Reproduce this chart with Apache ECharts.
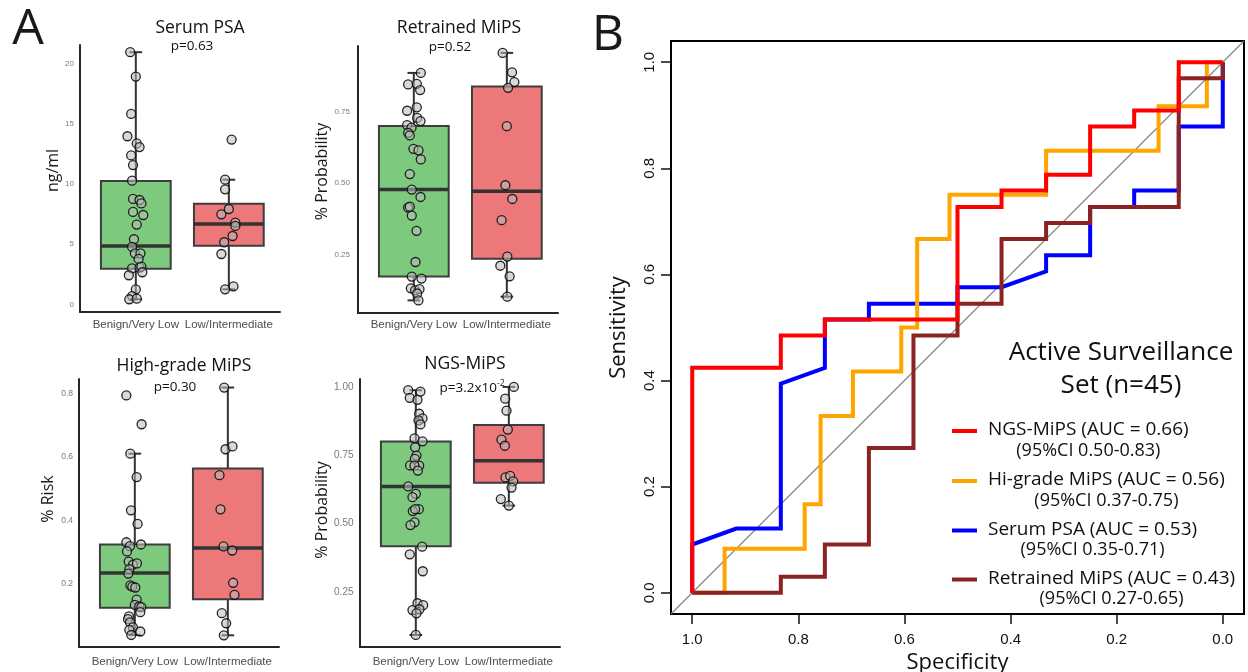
<!DOCTYPE html>
<html>
<head>
<meta charset="utf-8">
<script src="https://cdn.jsdelivr.net/npm/echarts@6/dist/echarts.min.js"></script>
<style>
html, body { margin: 0; padding: 0; background: #fff; }
#chart { width: 1248px; height: 672px; }
</style>
</head>
<body>
<div id="chart"></div>
<script>
// ---------------- Panel A: risk groups ----------------
const groups = ['Benign/Very Low', 'Low/Intermediate'];

// [lower whisker, Q1, median, Q3, upper whisker] for each group
const psaStats = [[0.42, 2.97, 4.86, 10.27, 21.0], [1.25, 4.88, 6.69, 8.38, 10.38]];
const retrainedStats = [[0.09, 0.173, 0.477, 0.699, 0.884], [0.103, 0.235, 0.471, 0.837, 0.954]];
const hiGradeStats = [[0.038, 0.124, 0.234, 0.324, 0.611], [0.037, 0.151, 0.313, 0.564, 0.82]];
const ngsStats = [[0.093, 0.417, 0.636, 0.80, 0.988], [0.566, 0.65, 0.73, 0.861, 1.0]];

// individual patients (value) and their horizontal jitter
const psaBenign = [21.0, 18.97, 15.86, 14.0, 13.4, 13.1, 12.4, 11.6, 10.3, 8.78, 8.69, 8.4, 7.7, 7.44, 6.64, 5.42, 4.78, 4.25, 4.25, 3.78, 3.0, 3.05, 3.14, 2.67, 2.42, 1.25, 0.69, 0.42, 0.47];
const psaBenignJitter = [-0.06, 0, -0.05, -0.09, 0.01, 0.04, -0.05, -0.03, -0.04, -0.03, 0.04, 0.06, -0.03, 0.08, 0.01, -0.02, -0.04, -0.01, 0.05, 0.03, -0.04, 0.04, 0.06, 0.07, -0.075, 0, -0.04, -0.07, 0.01];
const psaLow = [13.72, 10.38, 9.58, 7.94, 7.5, 6.8, 6.53, 5.69, 5.17, 4.19, 1.5, 1.25];
const psaLowJitter = [0.03, -0.04, -0.04, 0, -0.08, 0.07, 0.07, 0.04, -0.05, -0.08, 0.05, -0.04];

const retrainedBenign = [0.884, 0.844, 0.846, 0.824, 0.752, 0.764, 0.727, 0.716, 0.702, 0.693, 0.675, 0.666, 0.619, 0.614, 0.582, 0.531, 0.477, 0.451, 0.414, 0.417, 0.386, 0.333, 0.224, 0.173, 0.166, 0.132, 0.125, 0.129, 0.114, 0.09];
const retrainedBenignJitter = [0.075, -0.061, 0.032, 0.068, -0.072, 0.032, 0.036, 0.072, -0.072, -0.025, -0.061, -0.043, -0.004, 0.05, 0.075, -0.043, -0.022, 0.072, -0.061, -0.043, -0.022, 0.029, 0.018, -0.022, 0.082, -0.032, 0.014, 0.061, 0.036, 0.05];
const retrainedLow = [0.954, 0.886, 0.852, 0.832, 0.698, 0.492, 0.444, 0.37, 0.243, 0.211, 0.174, 0.103];
const retrainedLowJitter = [-0.045, 0.056, 0.081, 0.013, 0, -0.016, 0.059, -0.056, 0.005, -0.07, 0.03, 0.005];

const hiGradeBenign = [0.795, 0.704, 0.611, 0.537, 0.432, 0.389, 0.331, 0.319, 0.324, 0.302, 0.27, 0.26, 0.264, 0.246, 0.232, 0.195, 0.191, 0.188, 0.15, 0.133, 0.128, 0.126, 0.11, 0.097, 0.088, 0.078, 0.062, 0.054, 0.049, 0.038];
const hiGradeBenignJitter = [-0.091, 0.073, -0.048, 0.02, -0.041, 0.03, -0.091, -0.052, 0.066, -0.084, -0.066, -0.02, 0.023, -0.059, -0.07, -0.048, -0.027, 0.005, 0.02, 0, 0.048, 0.07, 0.059, -0.063, -0.073, -0.052, -0.02, -0.059, 0.059, -0.038];
const hiGradeLow = [0.82, 0.625, 0.634, 0.543, 0.435, 0.318, 0.305, 0.203, 0.165, 0.107, 0.075, 0.037];
const hiGradeLowJitter = [-0.039, -0.025, 0.05, -0.09, -0.079, -0.047, 0.047, 0.057, 0.072, -0.065, -0.018, -0.043];

const ngsBenign = [0.988, 0.983, 0.96, 0.953, 0.902, 0.885, 0.878, 0.863, 0.812, 0.801, 0.779, 0.749, 0.737, 0.713, 0.712, 0.712, 0.694, 0.636, 0.609, 0.597, 0.553, 0.546, 0.553, 0.505, 0.495, 0.416, 0.388, 0.326, 0.209, 0.202, 0.184, 0.187, 0.172, 0.093];
const ngsBenignJitter = [-0.082, 0.05, -0.065, 0.018, 0.036, 0.072, 0.029, 0.05, -0.014, 0.072, -0.007, 0.007, -0.011, -0.061, 0.036, -0.014, 0.022, -0.082, 0, -0.036, 0.032, -0.032, -0.007, -0.014, -0.057, 0.068, -0.065, 0.075, 0.018, 0.079, -0.036, 0.039, 0.007, 0];
const ngsLow = [1.0, 0.957, 0.913, 0.844, 0.807, 0.785, 0.669, 0.675, 0.655, 0.632, 0.59, 0.566];
const ngsLowJitter = [0.054, -0.039, -0.025, -0.011, -0.079, -0.043, -0.036, 0.014, 0.047, 0.029, -0.086, 0];

const panelTitles = ['Serum PSA', 'Retrained MiPS', 'High-grade MiPS', 'NGS-MiPS'];
const panelPValues = ['p=0.63', 'p=0.52', 'p=0.30', 'p=3.2x10'];
const panelYNames = ['ng/ml', '% Probability', '% Risk', '% Probability'];
const psaTicks = [0, 5, 10, 15, 20];
const retrainedTicks = [0.25, 0.5, 0.75];
const hiGradeTicks = [0.2, 0.4, 0.6, 0.8];
const ngsTicks = [0.25, 0.5, 0.75, 1.0];

// ---------------- Panel B: ROC curves, [specificity, sensitivity] ----------------
const rocNames = ['NGS-MiPS', 'Hi-grade MiPS', 'Serum PSA', 'Retrained MiPS'];
const rocAuc = ['0.66', '0.56', '0.53', '0.43'];
const rocCi = ['0.50-0.83', '0.37-0.75', '0.35-0.71', '0.27-0.65'];
const rocNgs = [[1, 0], [1, 0.424], [0.833, 0.424], [0.833, 0.485], [0.75, 0.485], [0.75, 0.515], [0.5, 0.515], [0.5, 0.727], [0.417, 0.727], [0.417, 0.758], [0.333, 0.758], [0.333, 0.788], [0.25, 0.788], [0.25, 0.879], [0.167, 0.879], [0.167, 0.909], [0.083, 0.909], [0.083, 1], [0, 1]];
const rocHiGrade = [[1, 0], [0.939, 0], [0.939, 0.083], [0.788, 0.083], [0.788, 0.167], [0.758, 0.167], [0.758, 0.333], [0.697, 0.333], [0.697, 0.417], [0.606, 0.417], [0.606, 0.5], [0.576, 0.5], [0.576, 0.667], [0.515, 0.667], [0.515, 0.75], [0.333, 0.75], [0.333, 0.833], [0.121, 0.833], [0.121, 0.917], [0.03, 0.917], [0.03, 1], [0, 1]];
const rocPsa = [[1, 0], [1, 0.091], [0.917, 0.121], [0.833, 0.121], [0.833, 0.394], [0.75, 0.424], [0.75, 0.515], [0.667, 0.515], [0.667, 0.545], [0.5, 0.545], [0.5, 0.576], [0.417, 0.576], [0.333, 0.606], [0.333, 0.636], [0.25, 0.636], [0.25, 0.727], [0.167, 0.727], [0.167, 0.758], [0.083, 0.758], [0.083, 0.879], [0, 0.879], [0, 1]];
const rocRetrained = [[1, 0], [0.833, 0], [0.833, 0.03], [0.75, 0.03], [0.75, 0.091], [0.667, 0.091], [0.667, 0.273], [0.583, 0.273], [0.583, 0.485], [0.5, 0.485], [0.5, 0.545], [0.417, 0.545], [0.417, 0.667], [0.333, 0.667], [0.333, 0.697], [0.25, 0.697], [0.25, 0.727], [0.083, 0.727], [0.083, 0.97], [0, 0.97], [0, 1]];
const chanceLine = [[1.04, -0.04], [-0.04, 1.04]];
const rocTicks = [0, 0.2, 0.4, 0.6, 0.8, 1.0];

// ---------------- styling / layout ----------------
const SANS = 'Open Sans';
const R_FONT = 'Liberation Sans';
const boxFills = ['#7dca7e', '#ec787a'];
const rocColors = ['#ff0000', '#ffa500', '#0000ff', '#8b2323'];
const rocDrawOrder = [2, 1, 3, 0]; // PSA, Hi-grade, Retrained, then NGS on top
const BOX_HALF = 0.375;
const CAP_HALF = 0.068;

const panels = [
  { stats: psaStats, pts: [[psaBenign, psaBenignJitter], [psaLow, psaLowJitter]], ticks: psaTicks, dec: 0,
    left: 80, top: 45, height: 267, yMin: -0.64, yMax: 21.6, labelSize: 8, labelMargin: 6, xLabelMargin: 7, nameGap: 19, namePad: 16,
    titleX: 200, titleY: 28, pX: 192, pY: 46 },
  { stats: retrainedStats, pts: [[retrainedBenign, retrainedBenignJitter], [retrainedLow, retrainedLowJitter]], ticks: retrainedTicks, dec: 2,
    left: 358, top: 46, height: 267, yMin: 0.046, yMax: 0.978, labelSize: 8, labelMargin: 8, xLabelMargin: 6, nameGap: 28, namePad: 16,
    titleX: 459, titleY: 28, pX: 450, pY: 47 },
  { stats: hiGradeStats, pts: [[hiGradeBenign, hiGradeBenignJitter], [hiGradeLow, hiGradeLowJitter]], ticks: hiGradeTicks, dec: 1,
    left: 79, top: 379, height: 268, yMin: 0, yMax: 0.847, labelSize: 8.5, labelMargin: 6, xLabelMargin: 9, nameGap: 23, namePad: 28,
    titleX: 184, titleY: 366, pX: 175, pY: 387 },
  { stats: ngsStats, pts: [[ngsBenign, ngsBenignJitter], [ngsLow, ngsLowJitter]], ticks: ngsTicks, dec: 2,
    left: 360, top: 379, height: 268, yMin: 0.049, yMax: 1.029, labelSize: 10, labelMargin: 6.5, xLabelMargin: 9, nameGap: 28, namePad: 6,
    titleX: 465, titleY: 364, pX: 472, pY: 388 }
];

// boxplot drawn from the five-number summary through the axis scales
function renderBox(params, api) {
  const x = api.value(0);
  const lo = api.value(1), q1 = api.value(2), med = api.value(3), q3 = api.value(4), hi = api.value(5);
  const c = (xx, yy) => api.coord([xx, yy]);
  const lineStyle = { stroke: '#333', lineWidth: 2 };
  const pHi = c(x, hi), pQ3 = c(x, q3), pQ1 = c(x, q1), pLo = c(x, lo);
  const boxTL = c(x - BOX_HALF, q3), boxBR = c(x + BOX_HALF, q1);
  const medL = c(x - BOX_HALF, med), medR = c(x + BOX_HALF, med);
  const capHiL = c(x - CAP_HALF, hi), capHiR = c(x + CAP_HALF, hi);
  const capLoL = c(x - CAP_HALF, lo), capLoR = c(x + CAP_HALF, lo);
  return {
    type: 'group',
    children: [
      { type: 'line', shape: { x1: pHi[0], y1: pHi[1], x2: pQ3[0], y2: pQ3[1] }, style: lineStyle },
      { type: 'line', shape: { x1: pQ1[0], y1: pQ1[1], x2: pLo[0], y2: pLo[1] }, style: lineStyle },
      { type: 'line', shape: { x1: capHiL[0], y1: capHiL[1], x2: capHiR[0], y2: capHiR[1] }, style: lineStyle },
      { type: 'line', shape: { x1: capLoL[0], y1: capLoL[1], x2: capLoR[0], y2: capLoR[1] }, style: lineStyle },
      { type: 'rect', shape: { x: boxTL[0], y: boxTL[1], width: boxBR[0] - boxTL[0], height: boxBR[1] - boxTL[1] },
        style: { fill: boxFills[params.dataIndex], stroke: '#3d3d3d', lineWidth: 2 } },
      { type: 'line', shape: { x1: medL[0], y1: medL[1], x2: medR[0], y2: medR[1] }, style: { stroke: '#333', lineWidth: 3.5 } }
    ]
  };
}

const grids = [], xAxes = [], yAxes = [], series = [], graphics = [];

panels.forEach((p, i) => {
  grids.push({ left: p.left, top: p.top, width: 200, height: p.height, outerBoundsMode: 'none' });
  xAxes.push({
    type: 'value', gridIndex: i, min: 0.4, max: 2.55,
    axisLine: { show: true, onZero: false, lineStyle: { color: '#262626', width: 2 } },
    axisTick: { show: false }, splitLine: { show: false },
    axisLabel: { customValues: [1, 2], formatter: v => groups[Math.round(v) - 1], fontSize: 11.5,
      fontFamily: R_FONT, color: '#4d4d4d', margin: p.xLabelMargin }
  });
  yAxes.push({
    type: 'value', gridIndex: i, min: p.yMin, max: p.yMax,
    name: panelYNames[i], nameLocation: 'middle', nameGap: p.nameGap,
    nameTextStyle: { fontSize: 16, fontFamily: SANS, color: '#1a1a1a', padding: [0, 0, 0, p.namePad] },
    axisLine: { show: true, onZero: false, lineStyle: { color: '#262626', width: 2 } },
    axisTick: { show: false }, splitLine: { show: false },
    axisLabel: { customValues: p.ticks, formatter: v => v.toFixed(p.dec), fontSize: p.labelSize,
      fontFamily: R_FONT, color: '#7a7a7a', margin: p.labelMargin }
  });
  series.push({
    type: 'custom', name: panelTitles[i], xAxisIndex: i, yAxisIndex: i,
    renderItem: renderBox, silent: true,
    encode: { x: 0, y: [1, 2, 3, 4, 5] },
    data: p.stats.map((s, g) => [g + 1].concat(s)), z: 2
  });
  const pts = [];
  p.pts.forEach(([vals, jit], g) => vals.forEach((v, k) => pts.push([g + 1 + jit[k], v])));
  series.push({
    type: 'scatter', xAxisIndex: i, yAxisIndex: i, data: pts, symbol: 'circle', symbolSize: 9, z: 3,
    itemStyle: { color: 'rgba(185,185,185,0.55)', borderColor: 'rgba(15,15,15,0.9)', borderWidth: 1.3, opacity: 1 }
  });
  graphics.push({ type: 'text', x: p.titleX, y: p.titleY,
    style: { text: panelTitles[i], fontSize: 17.5, fontFamily: SANS, fill: '#111',
      textAlign: 'center', align: 'center', textVerticalAlign: 'middle', verticalAlign: 'middle' } });
  const pText = i === 3 ? '{a|' + panelPValues[i] + '}{s|-2}' : '{a|' + panelPValues[i] + '}';
  graphics.push({ type: 'text', x: p.pX, y: p.pY,
    style: { text: pText, fill: '#111', textAlign: 'center', align: 'center', textVerticalAlign: 'middle', verticalAlign: 'middle',
      rich: { a: { fontSize: 13.5, fontFamily: SANS, fill: '#111', lineHeight: 18 },
              s: { fontSize: 8.5, fontFamily: SANS, fill: '#111', verticalAlign: 'top', lineHeight: 18 } } } });
});

// ROC panel
const R = 4;
grids.push({ left: 671, top: 41, width: 573, height: 573, show: true, borderColor: '#000', borderWidth: 2,
  backgroundColor: 'transparent', outerBoundsMode: 'none' });
xAxes.push({
  type: 'value', gridIndex: R, min: -0.04, max: 1.04, inverse: true,
  name: 'Specificity', nameLocation: 'middle', nameGap: 33,
  nameTextStyle: { fontSize: 22, fontFamily: SANS, color: '#111' },
  axisLine: { show: false, onZero: false }, splitLine: { show: false },
  axisTick: { show: true, customValues: rocTicks, length: 10, lineStyle: { color: '#111', width: 1.5 } },
  axisLabel: { customValues: rocTicks, formatter: v => v.toFixed(1), fontSize: 15, fontFamily: R_FONT, color: '#111', margin: 18 }
});
yAxes.push({
  type: 'value', gridIndex: R, min: -0.04, max: 1.04,
  name: 'Sensitivity', nameLocation: 'middle', nameGap: 41,
  nameTextStyle: { fontSize: 22, fontFamily: SANS, color: '#111' },
  axisLine: { show: false, onZero: false }, splitLine: { show: false },
  axisTick: { show: true, customValues: rocTicks, length: 10, lineStyle: { color: '#111', width: 1.5 } },
  axisLabel: { customValues: rocTicks, formatter: v => v.toFixed(1), rotate: 90, fontSize: 15, fontFamily: R_FONT, color: '#111', margin: 14 }
});
series.push({ type: 'line', name: 'chance', xAxisIndex: R, yAxisIndex: R, data: chanceLine, symbol: 'none',
  lineStyle: { color: '#808080', width: 1.1 }, silent: true, z: 2 });
const rocData = [rocNgs, rocHiGrade, rocPsa, rocRetrained];
rocDrawOrder.forEach((k, order) => {
  series.push({ type: 'line', name: rocNames[k], xAxisIndex: R, yAxisIndex: R, data: rocData[k], symbol: 'none',
    lineStyle: { color: rocColors[k], width: 4, join: 'miter', cap: 'butt' }, silent: true, z: 3 + order });
});

// panel letters
graphics.push({ type: 'text', x: 28, y: 30, style: { text: 'A', fontSize: 50, fontFamily: SANS, fill: '#1a1a1a',
  textAlign: 'center', align: 'center', textVerticalAlign: 'middle', verticalAlign: 'middle' } });
graphics.push({ type: 'text', x: 608, y: 36, style: { text: 'B', fontSize: 50, fontFamily: SANS, fill: '#1a1a1a',
  textAlign: 'center', align: 'center', textVerticalAlign: 'middle', verticalAlign: 'middle' } });

// ROC annotation and legend
graphics.push({ type: 'text', x: 1121, y: 336.5, style: { text: 'Active Surveillance\nSet (n=45)', fontSize: 26, lineHeight: 33,
  fontFamily: SANS, fill: '#111', textAlign: 'center', align: 'center', textVerticalAlign: 'top', verticalAlign: 'top' } });
const measureCtx = document.createElement('canvas').getContext('2d');
const LEGEND_FONT = 19;
measureCtx.font = LEGEND_FONT + 'px "' + SANS + '"';
const legendRows = [430, 480, 529.5, 578.5];
rocNames.forEach((name, k) => {
  const y = legendRows[k];
  const main = name + ' (AUC = ' + rocAuc[k] + ')';
  const w = measureCtx.measureText(main).width;
  graphics.push({ type: 'line', shape: { x1: 952, y1: y + 1, x2: 977, y2: y + 1 }, style: { stroke: rocColors[k], lineWidth: 4 } });
  graphics.push({ type: 'text', x: 988, y: y, style: { text: main, fontSize: LEGEND_FONT, fontFamily: SANS, fill: '#111',
    textAlign: 'left', align: 'left', textVerticalAlign: 'middle', verticalAlign: 'middle' } });
  graphics.push({ type: 'text', x: 988 + w / 2, y: y + 20.5, style: { text: '(95%CI ' + rocCi[k] + ')', fontSize: 18, fontFamily: SANS,
    fill: '#111', textAlign: 'center', align: 'center', textVerticalAlign: 'middle', verticalAlign: 'middle' } });
});

const chart = echarts.init(document.getElementById('chart'), null, { renderer: 'canvas' });
chart.setOption({
  animation: false,
  backgroundColor: '#ffffff',
  grid: grids,
  xAxis: xAxes,
  yAxis: yAxes,
  series: series,
  graphic: graphics
});
</script>
</body>
</html>
